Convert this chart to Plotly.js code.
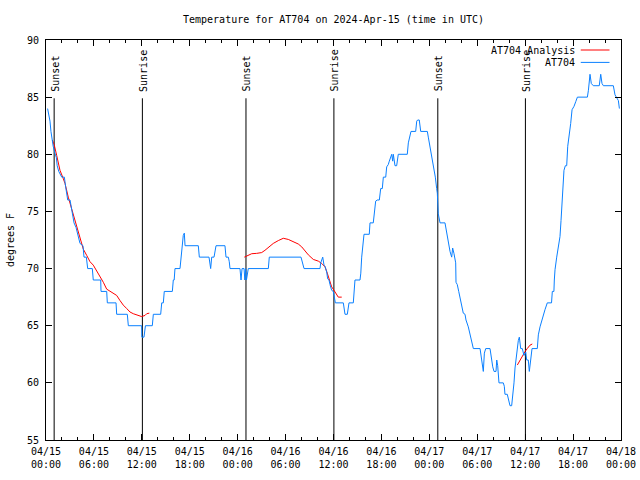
<!DOCTYPE html>
<html>
<head>
<meta charset="utf-8">
<script src="https://cdn.plot.ly/plotly-3.0.1.min.js"></script>
<style>html,body{margin:0;padding:0;background:#fff}#chart{width:640px;height:480px}</style>
</head>
<body>
<div id="chart"></div>
<script>
// hours since 2024-04-15 00:00 UTC
const stationHours = [0.2,0.35,0.5,0.62,0.75,0.9,1.12,1.3,1.4,1.6,1.97,2.3,2.45,2.6,2.72,3.01,3.29,3.45,3.51,3.76,4.26,4.63,4.76,5.05,5.22,5.80,5.92,6.85,6.89,7.60,7.68,8.77,8.85,10.18,10.31,11.98,12.0,12.27,12.45,13.31,13.44,14.36,14.49,14.69,14.81,15.82,15.94,16.05,16.15,16.78,16.9,17.0,17.07,17.19,17.32,17.41,19.07,19.2,20.41,20.54,20.62,20.75,21.04,21.29,22.41,22.54,22.83,22.95,23.04,24.29,24.42,24.55,24.8,24.9,25.0,25.1,25.33,27.84,27.96,31.93,32.1,32.31,34.31,34.40,34.65,34.81,34.94,35.15,35.27,35.44,35.56,35.77,35.98,36.15,36.23,37.23,37.35,37.44,37.73,37.94,38.48,38.61,38.69,39.32,39.42,39.53,39.66,39.82,40.48,40.57,40.98,41.11,41.28,41.48,41.74,41.91,42.11,42.24,42.54,42.66,42.86,42.99,43.29,43.41,43.49,43.70,43.91,44.11,45.24,45.37,45.58,45.70,46.29,46.42,46.54,46.74,46.92,47.75,47.87,48.0,48.21,48.42,48.59,48.75,48.92,49.0,49.12,49.34,49.96,50.09,50.25,50.46,50.59,50.8,50.92,51.09,51.3,51.34,51.5,51.68,51.84,52.05,52.25,52.47,52.59,52.88,53.09,53.31,53.51,54.35,54.43,54.56,54.76,54.89,55.06,55.60,55.72,55.94,56.10,56.35,56.44,56.56,56.72,57.26,57.39,57.47,57.76,57.89,58.10,58.31,58.44,58.60,58.73,58.85,59.02,59.14,59.27,59.44,59.64,59.85,60.07,60.19,60.39,60.52,60.69,60.86,61.52,61.65,61.86,62.07,62.27,62.48,62.77,63.3,63.4,63.6,63.65,63.74,63.95,64.15,64.36,64.49,64.70,64.86,65.03,65.20,65.33,65.49,65.70,65.87,66.12,66.33,66.54,67.79,67.92,68.12,68.28,68.53,69.28,69.46,69.62,69.79,71.04,71.25,71.46,71.67,71.80];
const stationTemps = [84.0,83.5,82.9,82.0,81.3,80.7,80.1,79.7,79.0,78.5,78.0,78.0,77.2,76.6,76.0,76.0,74.8,74.2,74.0,73.6,72.2,72.0,71.0,71.0,70.0,70.0,69.0,69.0,68.0,68.0,67.0,67.0,66.0,66.0,65.0,65.0,64.0,64.0,65.0,65.0,66.0,66.0,67.0,67.0,68.0,68.0,69.0,69.0,70.0,70.0,71.0,71.5,72.3,72.9,73.1,72.0,72.0,71.0,71.0,70.2,70.0,71.0,71.0,72.0,72.0,71.0,71.0,70.6,70.0,70.0,69.0,70.0,70.0,69.0,70.0,69.0,70.0,70.0,71.0,71.0,70.5,70.0,70.0,70.5,71.0,70.3,70.2,69.7,69.1,69.0,68.6,68.1,68.0,67.5,67.0,67.0,66.6,66.0,66.0,67.0,67.0,68.0,69.0,69.0,69.6,71.0,72.0,73.0,73.0,74.0,74.0,74.8,75.9,76.0,76.0,77.0,77.0,78.0,78.0,78.9,79.1,79.4,80.0,79.4,80.0,79.0,79.0,80.0,80.0,81.0,81.8,82.0,82.0,82.9,83.0,83.0,82.0,82.0,81.5,81.0,80.2,79.2,78.6,78.0,77.0,76.6,74.8,74.0,74.0,73.4,72.8,72.0,71.5,71.0,71.8,71.3,70.5,68.8,68.6,68.0,67.5,66.7,66.1,66.0,65.5,64.9,64.3,63.7,63.0,63.0,62.6,61.7,61.0,62.6,63.0,63.0,62.3,61.4,61.0,61.0,62.0,61.5,60.0,60.0,59.7,59.0,59.0,58.6,58.0,58.0,58.8,60.0,61.3,62.0,63.2,63.7,64.0,63.0,63.0,62.4,62.7,62.0,62.0,61.0,62.0,63.0,63.0,64.2,64.9,65.5,65.9,66.4,67.0,67.0,68.0,68.0,69.0,69.9,71.0,71.8,72.8,74.2,76.6,78.6,79.0,79.0,80.7,81.5,82.7,83.9,84.2,84.6,85.0,85.0,85.6,87.0,86.2,86.0,86.0,87.0,86.2,86.0,86.0,85.2,85.0,84.7,84.0];

const analysisHours = [0.79,1.04,1.34,1.54,1.75,2.09,2.38,2.79,3.42,3.84,4.26,4.67,5.10,5.51,5.92,6.35,6.76,7.18,7.60,7.80,8.23,8.85,9.27,9.68,10.11,10.52,10.93,11.56,11.98,12.40,12.61,12.94,12.95,
  24.83,25.33,25.76,26.38,27.01,27.42,27.96,28.46,29.09,29.71,30.34,30.97,31.59,32.02,32.43,32.85,33.47,34.10,34.52,34.94,35.22,35.48,35.77,36.06,36.31,36.60,37.03,37.04,
  59.02,59.35,59.69,59.98,60.26,60.61,60.89];
const analysisTemps = [81.25,80.8,79.9,79.35,78.6,78.0,77.45,76.25,74.7,73.6,72.75,71.7,71.15,70.6,70.3,69.8,69.3,68.8,68.2,68.1,67.95,67.65,67.2,66.8,66.5,66.2,66.05,65.9,65.8,65.9,66.05,66.1,null,
  71.0,71.2,71.3,71.33,71.4,71.6,71.9,72.2,72.45,72.65,72.55,72.35,72.15,71.9,71.5,71.2,70.8,70.65,70.45,70.15,69.6,69.0,68.4,68.1,67.8,67.5,67.5,null,
  61.56,62.0,62.4,62.73,63.0,63.3,63.4];

const sunsetHours = [1.02, 25.04, 49.06];
const sunriseHours = [12.07, 36.05, 60.03];

const tickHours = [0,6,12,18,24,30,36,42,48,54,60,66,72];
const tickLabels = ["04/15<br>00:00","04/15<br>06:00","04/15<br>12:00","04/15<br>18:00","04/16<br>00:00","04/16<br>06:00","04/16<br>12:00","04/16<br>18:00","04/17<br>00:00","04/17<br>06:00","04/17<br>12:00","04/17<br>18:00","04/18<br>00:00"];

const FONT = "DejaVu Sans Mono, monospace";
const RED = "#ff0000";
const BLUE = "#0a80ff";

const traces = [
  {x: analysisHours, y: analysisTemps, type: "scatter", mode: "lines", name: "AT704 Analysis",
   line: {color: RED, width: 1}, connectgaps: false, hoverinfo: "skip"},
  {x: stationHours, y: stationTemps, type: "scatter", mode: "lines", name: "AT704",
   line: {color: BLUE, width: 1}, hoverinfo: "skip"}
];

const shapes = [];
const annotations = [];
function addEvent(h, label) {
  shapes.push({type: "line", xref: "x", yref: "y", x0: h, x1: h, y0: 55, y1: 84.9,
               line: {color: "#000", width: 1}, layer: "below"});
  annotations.push({x: h, y: 85.4, xref: "x", yref: "y", text: label, textangle: -90,
                    showarrow: false, xanchor: "center", yanchor: "bottom", xshift: 1,
                    font: {family: FONT, size: 10, color: "#000"}, borderpad: 0});
}
sunsetHours.forEach(h => addEvent(h, "Sunset"));
sunriseHours.forEach(h => addEvent(h, "Sunrise"));

// gnuplot-style key: text right-aligned, line sample to its right
const keyNames = ["AT704 Analysis", "AT704"];
const keyColors = [RED, BLUE];
const keyY = [0.975, 0.944];
keyNames.forEach((n, i) => {
  annotations.push({x: 0.922, y: keyY[i], xref: "paper", yref: "paper", text: n, showarrow: false,
                    xanchor: "right", yanchor: "middle", font: {family: FONT, size: 10, color: "#000"}, borderpad: 0});
  shapes.push({type: "line", xref: "paper", yref: "paper", x0: 0.93, x1: 0.98, y0: keyY[i], y1: keyY[i],
               line: {color: keyColors[i], width: 1}});
});

const layout = {
  width: 640, height: 480,
  paper_bgcolor: "#fff", plot_bgcolor: "#fff",
  margin: {l: 46, r: 19, t: 40, b: 40},
  showlegend: false,
  font: {family: FONT, size: 10, color: "#000"},
  title: {text: "Temperature for AT704 on 2024-Apr-15 (time in UTC)", x: 0.5, xref: "paper",
          y: 1 - 19/480, yref: "container", yanchor: "middle", font: {family: FONT, size: 10, color: "#000"}},
  xaxis: {range: [0, 72], tickmode: "array", tickvals: tickHours, ticktext: tickLabels,
          ticks: "inside", ticklen: 6, tickcolor: "#000", showline: true, linecolor: "#000", linewidth: 1,
          mirror: "allticks", showgrid: false, zeroline: false, fixedrange: true, ticklabelstandoff: 2,
          minor: {dtick: 2, tick0: 0, ticks: "inside", ticklen: 3, tickcolor: "#000", showgrid: false},
          tickfont: {family: FONT, size: 10, color: "#000"}},
  yaxis: {range: [55, 90], dtick: 5, tick0: 55, ticks: "inside", ticklen: 6, tickcolor: "#000",
          showline: true, linecolor: "#000", linewidth: 1, mirror: "allticks", showgrid: false, zeroline: false,
          fixedrange: true, ticklabelstandoff: 4,
          title: {text: "degrees F", standoff: 10, font: {family: FONT, size: 10, color: "#000"}},
          tickfont: {family: FONT, size: 10, color: "#000"}},
  shapes: shapes,
  annotations: annotations
};

Plotly.newPlot("chart", traces, layout, {staticPlot: true, displayModeBar: false});
</script>
</body>
</html>
